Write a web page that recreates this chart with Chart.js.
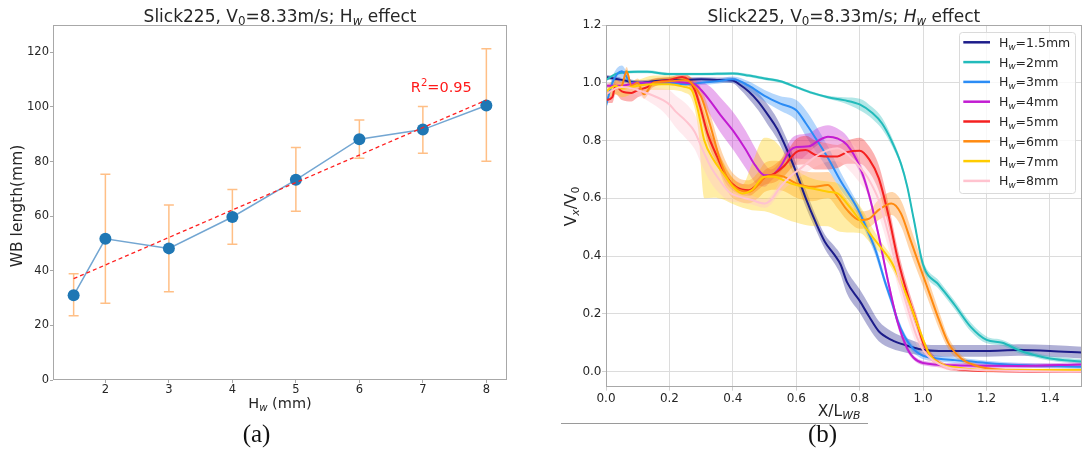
<!DOCTYPE html>
<html>
<head>
<meta charset="utf-8">
<script src="https://cdn.jsdelivr.net/npm/chart.js@4.4.0/dist/chart.umd.min.js"></script>
<style>
  body { margin: 0; background: #fff; width: 1092px; height: 450px; overflow: hidden; position: relative; }
  canvas { position: absolute; top: 0; }
  #chartA { left: 0; }
  #chartB { left: 560px; }
</style>
</head>
<body>
<canvas id="chartA" width="546" height="450"></canvas>
<canvas id="chartB" width="532" height="450"></canvas>
<script>

// ---- panel (a): WB length vs Hw ----
let hwA = [1.5, 2, 3, 4, 5, 6, 7, 8];
let wbLen = [31.0, 51.7, 48.2, 59.7, 73.3, 88.2, 91.7, 100.5];
let wbHi = [38.9, 75.3, 64.1, 69.8, 85.1, 95.2, 100.2, 121.3];
let wbLo = [23.5, 28.1, 32.3, 49.7, 61.8, 81.2, 83.0, 80.1];
let fitX = [1.5, 8];
let fitY = [37.1, 102.5];
let xTicksA = [2, 3, 4, 5, 6, 7, 8];
let yTicksA = [0, 20, 40, 60, 80, 100, 120];

// ---- panel (b): Vx/V0 vs X/Lwb, one curve per Hw ----
let hwLabels = ['1.5', '2', '3', '4', '5', '6', '7', '8'];
let lineColors = ['#1c1c8a', '#22bbbb', '#2b8cf5', '#c21cd2', '#f52020', '#ff8a10', '#ffcc00', '#ffc3cf'];
let xTicksB = [0, 0.2, 0.4, 0.6, 0.8, 1.0, 1.2, 1.4];
let yTicksB = [0, 0.2, 0.4, 0.6, 0.8, 1.0, 1.2];

let x_h15 = [0, 0.05, 0.1, 0.15, 0.2, 0.25, 0.3, 0.35, 0.4, 0.42, 0.45, 0.48, 0.51, 0.54, 0.57, 0.6, 0.63, 0.66, 0.69, 0.72, 0.74, 0.76, 0.8, 0.83, 0.86, 0.9, 0.95, 1.0, 1.05, 1.1, 1.2, 1.3, 1.4, 1.5];
let y_h15 = [1.02, 1.01, 1.0, 1.005, 1.01, 1.01, 1.012, 1.01, 1.008, 0.995, 0.97, 0.935, 0.89, 0.84, 0.77, 0.69, 0.6, 0.52, 0.45, 0.405, 0.37, 0.31, 0.245, 0.19, 0.14, 0.11, 0.09, 0.076, 0.072, 0.072, 0.072, 0.075, 0.072, 0.066];
let w_h15 = [0.008, 0.008, 0.008, 0.008, 0.008, 0.008, 0.008, 0.008, 0.01, 0.015, 0.025, 0.03, 0.035, 0.035, 0.035, 0.03, 0.03, 0.025, 0.025, 0.03, 0.035, 0.04, 0.04, 0.04, 0.035, 0.03, 0.025, 0.02, 0.02, 0.02, 0.02, 0.02, 0.02, 0.02];

let x_h2 = [0, 0.03, 0.05, 0.1, 0.13, 0.2, 0.3, 0.4, 0.45, 0.5, 0.55, 0.6, 0.65, 0.7, 0.75, 0.8, 0.84, 0.87, 0.9, 0.93, 0.95, 0.97, 1.0, 1.05, 1.1, 1.15, 1.2, 1.25, 1.3, 1.35, 1.4, 1.5];
let y_h2 = [1.01, 1.03, 1.035, 1.038, 1.038, 1.03, 1.03, 1.032, 1.025, 1.015, 1.005, 0.985, 0.965, 0.95, 0.94, 0.925, 0.895, 0.86, 0.8, 0.72, 0.64, 0.53, 0.37, 0.3, 0.23, 0.155, 0.11, 0.1, 0.075, 0.058, 0.046, 0.035];
let w_h2 = [0.005, 0.005, 0.005, 0.005, 0.005, 0.005, 0.005, 0.005, 0.005, 0.005, 0.005, 0.005, 0.005, 0.005, 0.01, 0.02, 0.02, 0.02, 0.015, 0.01, 0.01, 0.01, 0.015, 0.015, 0.015, 0.015, 0.012, 0.01, 0.01, 0.008, 0.008, 0.008];

let x_h3 = [0, 0.02, 0.05, 0.08, 0.1, 0.15, 0.2, 0.25, 0.3, 0.35, 0.4, 0.45, 0.5, 0.55, 0.6, 0.63, 0.66, 0.7, 0.74, 0.78, 0.8, 0.82, 0.85, 0.88, 0.9, 0.92, 0.94, 0.96, 0.98, 1.0, 1.05, 1.1, 1.2, 1.3, 1.5];
let y_h3 = [0.92, 1.0, 1.04, 1.0, 1.0, 1.0, 1.0, 0.995, 1.0, 1.005, 1.012, 0.99, 0.955, 0.928, 0.905, 0.86, 0.81, 0.74, 0.66, 0.59, 0.55, 0.5, 0.42, 0.31, 0.245, 0.175, 0.125, 0.09, 0.068, 0.055, 0.045, 0.04, 0.03, 0.023, 0.017];
let w_h3 = [0.01, 0.02, 0.02, 0.01, 0.008, 0.008, 0.008, 0.008, 0.008, 0.008, 0.01, 0.015, 0.02, 0.025, 0.035, 0.045, 0.045, 0.04, 0.03, 0.02, 0.02, 0.02, 0.02, 0.015, 0.015, 0.015, 0.012, 0.012, 0.012, 0.012, 0.01, 0.01, 0.008, 0.008, 0.008];

let x_h4 = [0, 0.05, 0.1, 0.15, 0.2, 0.25, 0.28, 0.3, 0.33, 0.36, 0.4, 0.44, 0.47, 0.5, 0.52, 0.55, 0.58, 0.6, 0.64, 0.67, 0.7, 0.73, 0.76, 0.8, 0.83, 0.86, 0.89, 0.92, 0.95, 0.97, 1.0, 1.1, 1.3, 1.5];
let y_h4 = [0.99, 0.99, 1.0, 1.0, 1.005, 1.0, 0.995, 0.975, 0.935, 0.89, 0.835, 0.77, 0.715, 0.68, 0.68, 0.71, 0.765, 0.778, 0.78, 0.8, 0.813, 0.807, 0.785, 0.71, 0.61, 0.47, 0.31, 0.17, 0.08, 0.048, 0.03, 0.022, 0.02, 0.025];
let w_h4 = [0.008, 0.008, 0.008, 0.008, 0.008, 0.008, 0.015, 0.03, 0.05, 0.06, 0.065, 0.065, 0.06, 0.04, 0.02, 0.02, 0.035, 0.04, 0.045, 0.045, 0.04, 0.035, 0.03, 0.02, 0.015, 0.015, 0.015, 0.015, 0.01, 0.008, 0.008, 0.008, 0.008, 0.008];

let x_h5 = [0, 0.02, 0.03, 0.05, 0.08, 0.1, 0.13, 0.15, 0.2, 0.24, 0.26, 0.28, 0.3, 0.32, 0.35, 0.38, 0.41, 0.45, 0.48, 0.5, 0.53, 0.56, 0.6, 0.63, 0.66, 0.7, 0.73, 0.76, 0.8, 0.83, 0.86, 0.89, 0.92, 0.95, 0.98, 1.0, 1.02, 1.05, 1.1, 1.2, 1.5];
let y_h5 = [0.94, 0.95, 0.99, 0.97, 0.965, 0.975, 0.985, 1.0, 1.01, 1.02, 1.01, 0.975, 0.905, 0.825, 0.745, 0.675, 0.64, 0.628, 0.65, 0.672, 0.685, 0.71, 0.76, 0.767, 0.75, 0.745, 0.745, 0.76, 0.765, 0.735, 0.67, 0.545, 0.39, 0.27, 0.17, 0.1, 0.06, 0.03, 0.01, 0.003, 0.0];
let w_h5 = [0.01, 0.02, 0.03, 0.03, 0.03, 0.025, 0.02, 0.015, 0.01, 0.01, 0.015, 0.02, 0.025, 0.03, 0.03, 0.025, 0.02, 0.02, 0.02, 0.025, 0.03, 0.035, 0.045, 0.05, 0.05, 0.045, 0.04, 0.04, 0.045, 0.045, 0.045, 0.04, 0.035, 0.03, 0.025, 0.02, 0.015, 0.01, 0.008, 0.005, 0.005];

let x_h6 = [0, 0.03, 0.05, 0.065, 0.08, 0.1, 0.12, 0.15, 0.2, 0.25, 0.27, 0.3, 0.33, 0.36, 0.39, 0.42, 0.45, 0.48, 0.5, 0.53, 0.56, 0.6, 0.65, 0.7, 0.73, 0.76, 0.8, 0.83, 0.86, 0.9, 0.93, 0.96, 0.99, 1.02, 1.05, 1.08, 1.12, 1.16, 1.2, 1.3, 1.5];
let y_h6 = [0.96, 0.98, 0.99, 1.04, 0.99, 1.0, 0.96, 1.0, 1.005, 1.01, 0.998, 0.952, 0.848, 0.732, 0.657, 0.629, 0.623, 0.646, 0.672, 0.68, 0.675, 0.652, 0.64, 0.646, 0.606, 0.56, 0.525, 0.53, 0.56, 0.582, 0.548, 0.456, 0.363, 0.271, 0.179, 0.098, 0.046, 0.023, 0.012, 0.005, 0.003];
let w_h6 = [0.01, 0.015, 0.015, 0.015, 0.015, 0.015, 0.015, 0.012, 0.012, 0.015, 0.02, 0.03, 0.04, 0.045, 0.045, 0.04, 0.04, 0.045, 0.05, 0.05, 0.05, 0.05, 0.05, 0.045, 0.04, 0.035, 0.03, 0.03, 0.035, 0.04, 0.045, 0.045, 0.04, 0.035, 0.03, 0.02, 0.012, 0.008, 0.005, 0.005, 0.005];

let x_h7 = [0, 0.03, 0.05, 0.1, 0.15, 0.2, 0.25, 0.27, 0.29, 0.31, 0.34, 0.37, 0.4, 0.43, 0.46, 0.5, 0.53, 0.57, 0.6, 0.65, 0.7, 0.73, 0.76, 0.8, 0.84, 0.87, 0.9, 0.93, 0.96, 0.99, 1.02, 1.05, 1.1, 1.2, 1.5];
let y_h7 = [0.97, 0.99, 0.98, 0.99, 0.995, 0.995, 0.985, 0.975, 0.905, 0.8, 0.732, 0.686, 0.64, 0.617, 0.629, 0.675, 0.675, 0.657, 0.646, 0.634, 0.623, 0.617, 0.582, 0.525, 0.467, 0.425, 0.38, 0.31, 0.23, 0.14, 0.06, 0.03, 0.015, 0.005, 0.006];
let hi_h7 = [0.02, 0.02, 0.02, 0.02, 0.03, 0.03, 0.03, 0.03, 0.03, 0.1, 0.05, 0.04, 0.03, 0.03, 0.09, 0.135, 0.125, 0.09, 0.055, 0.035, 0.035, 0.035, 0.04, 0.05, 0.03, 0.02, 0.02, 0.02, 0.015, 0.01, 0.01, 0.008, 0.005, 0.005, 0.005];
let lo_h7 = [0.03, 0.03, 0.03, 0.02, 0.02, 0.02, 0.02, 0.03, 0.06, 0.2, 0.13, 0.09, 0.06, 0.05, 0.07, 0.12, 0.13, 0.13, 0.13, 0.13, 0.12, 0.13, 0.1, 0.045, 0.03, 0.02, 0.02, 0.02, 0.015, 0.01, 0.01, 0.008, 0.005, 0.005, 0.005];

let x_h8 = [0, 0.03, 0.05, 0.1, 0.15, 0.18, 0.2, 0.22, 0.25, 0.28, 0.3, 0.33, 0.36, 0.39, 0.42, 0.46, 0.5, 0.52, 0.55, 0.58, 0.62, 0.66, 0.7, 0.73, 0.77, 0.8, 0.83, 0.86, 0.89, 0.92, 0.95, 0.98, 1.0, 1.03, 1.07, 1.1, 1.5];
let y_h8 = [0.96, 0.98, 0.985, 0.975, 0.955, 0.94, 0.925, 0.9, 0.87, 0.83, 0.78, 0.71, 0.66, 0.62, 0.606, 0.594, 0.582, 0.594, 0.64, 0.675, 0.709, 0.744, 0.767, 0.773, 0.744, 0.709, 0.663, 0.594, 0.479, 0.34, 0.225, 0.121, 0.075, 0.04, 0.017, 0.01, 0.0];
let w_h8 = [0.015, 0.015, 0.015, 0.02, 0.03, 0.04, 0.05, 0.055, 0.06, 0.06, 0.06, 0.055, 0.045, 0.03, 0.02, 0.015, 0.015, 0.015, 0.02, 0.025, 0.03, 0.035, 0.04, 0.045, 0.05, 0.055, 0.055, 0.055, 0.05, 0.045, 0.04, 0.03, 0.02, 0.015, 0.01, 0.008, 0.005];

let series = [
  { x: x_h15, y: y_h15, hi: w_h15, lo: w_h15 },
  { x: x_h2, y: y_h2, hi: w_h2, lo: w_h2 },
  { x: x_h3, y: y_h3, hi: w_h3, lo: w_h3 },
  { x: x_h4, y: y_h4, hi: w_h4, lo: w_h4 },
  { x: x_h5, y: y_h5, hi: w_h5, lo: w_h5 },
  { x: x_h6, y: y_h6, hi: w_h6, lo: w_h6 },
  { x: x_h7, y: y_h7, hi: hi_h7, lo: lo_h7 },
  { x: x_h8, y: y_h8, hi: w_h8, lo: w_h8 }
];

const FONT = '"DejaVu Sans", sans-serif';
const TXT = '#262626';

// text with sub/superscripts: parts = [{t, sub, sup, it}]
const drawRich = (ctx, parts, x, y, size, color, align) => {
  const fontFor = (p) => (p.it ? 'italic ' : '') + ((p.sub || p.sup) ? size * 0.7 : size) + 'px ' + FONT;
  let total = 0;
  parts.forEach((p) => { ctx.font = fontFor(p); total += ctx.measureText(p.t).width; });
  let cx = align == 'center' ? x - total / 2 : (align == 'right' ? x - total : x);
  ctx.fillStyle = color;
  ctx.textAlign = 'left';
  ctx.textBaseline = 'alphabetic';
  parts.forEach((p) => {
    ctx.font = fontFor(p);
    let dy = p.sub ? size * 0.22 : (p.sup ? -size * 0.4 : 0);
    ctx.fillText(p.t, cx, y + dy);
    cx += ctx.measureText(p.t).width;
  });
};

const drawRotated = (ctx, parts, x, y, size) => {
  ctx.save();
  ctx.translate(x, y);
  ctx.rotate(-Math.PI / 2);
  drawRich(ctx, parts, 0, 0, size, TXT, 'center');
  ctx.restore();
};

const withAlpha = (hex, a) => {
  let n = parseInt(hex.slice(1), 16);
  return 'rgba(' + (n >> 16) + ',' + ((n >> 8) & 255) + ',' + (n & 255) + ',' + a + ')';
};

const frame = (ctx, area) => {
  ctx.save();
  ctx.strokeStyle = '#a8a8a8';
  ctx.lineWidth = 1;
  ctx.strokeRect(Math.round(area.left) + 0.5, Math.round(area.top) + 0.5,
    Math.round(area.right - area.left) - 1, Math.round(area.bottom - area.top) - 1);
  ctx.restore();
};

const errorBarPlugin = {
  id: 'errbars',
  beforeDatasetsDraw(chart) {
    let ctx = chart.ctx;
    let sx = chart.scales.x, sy = chart.scales.y;
    ctx.save();
    ctx.strokeStyle = '#ffbf86';
    ctx.lineWidth = 1.5;
    hwA.forEach((h, i) => {
      let px = sx.getPixelForValue(h);
      let top = sy.getPixelForValue(wbHi[i]);
      let bot = sy.getPixelForValue(wbLo[i]);
      ctx.beginPath();
      ctx.moveTo(px, top); ctx.lineTo(px, bot);
      ctx.moveTo(px - 5, top); ctx.lineTo(px + 5, top);
      ctx.moveTo(px - 5, bot); ctx.lineTo(px + 5, bot);
      ctx.stroke();
    });
    ctx.restore();
  }
};

const textAPlugin = {
  id: 'textA',
  afterDraw(chart) {
    let ctx = chart.ctx, area = chart.chartArea;
    frame(ctx, area);
    let mid = (area.left + area.right) / 2;
    drawRich(ctx, [{ t: 'Slick225, V' }, { t: '0', sub: true }, { t: '=8.33m/s; H' }, { t: 'w', sub: true, it: true }, { t: ' effect' }], mid, 21.5, 17, TXT, 'center');
    drawRich(ctx, [{ t: 'H' }, { t: 'w', sub: true, it: true }, { t: ' (mm)' }], mid, 408, 14.5, TXT, 'center');
    drawRotated(ctx, [{ t: 'WB length(mm)' }], 21.5, 206, 15.5);
    drawRich(ctx, [{ t: 'R' }, { t: '2', sup: true }, { t: '=0.95' }],
      chart.scales.x.getPixelForValue(6.81), chart.scales.y.getPixelForValue(105.4), 14.5, '#ff1a1a', 'left');
    ctx.save();
    ctx.font = '25px "Liberation Serif", serif';
    ctx.fillStyle = '#111';
    ctx.textAlign = 'center';
    ctx.fillText('(a)', 256.5, 441.5);
    ctx.restore();
  }
};

const textBPlugin = {
  id: 'textB',
  afterDatasetsDraw(chart) {
    let ctx = chart.ctx, area = chart.chartArea;
    let boxW = 116, boxH = 161;
    let left = area.right - 6.7 - boxW, top = area.top + 7;
    ctx.save();
    ctx.fillStyle = 'rgba(255,255,255,0.8)';
    ctx.strokeStyle = '#dadada';
    ctx.lineWidth = 1;
    ctx.beginPath();
    ctx.roundRect(left + 0.5, top + 0.5, boxW, boxH, 3);
    ctx.fill();
    ctx.stroke();
    hwLabels.forEach((lab, i) => {
      let cy = top + 10.3 + i * 19.8;
      ctx.strokeStyle = lineColors[i];
      ctx.lineWidth = 2.5;
      ctx.beginPath();
      ctx.moveTo(left + 4.3, cy);
      ctx.lineTo(left + 31, cy);
      ctx.stroke();
      drawRich(ctx, [{ t: 'H' }, { t: 'w', sub: true, it: true }, { t: '=' + lab + 'mm' }], left + 40, cy + 4.5, 12.5, TXT, 'left');
    });
    ctx.restore();
  },
  afterDraw(chart) {
    let ctx = chart.ctx, area = chart.chartArea;
    frame(ctx, area);
    let mid = (area.left + area.right) / 2;
    drawRich(ctx, [{ t: 'Slick225, V' }, { t: '0', sub: true }, { t: '=8.33m/s; ' }, { t: 'H', it: true }, { t: 'w', sub: true, it: true }, { t: ' effect' }], mid, 21.5, 17, TXT, 'center');
    drawRich(ctx, [{ t: 'X/L' }, { t: 'WB', sub: true, it: true }], 279, 416, 15.5, TXT, 'center');
    drawRotated(ctx, [{ t: 'V' }, { t: 'x', sub: true, it: true }, { t: '/V' }, { t: '0', sub: true }], 15.5, 206.5, 15.5);
    ctx.save();
    ctx.strokeStyle = '#9a9a9a';
    ctx.lineWidth = 1;
    ctx.beginPath();
    ctx.moveTo(1, 423.5);
    ctx.lineTo(308, 423.5);
    ctx.stroke();
    ctx.font = '25px "Liberation Serif", serif';
    ctx.fillStyle = '#111';
    ctx.textAlign = 'center';
    ctx.fillText('(b)', 262.5, 441.5);
    ctx.restore();
  }
};

const tickFont = (size) => ({ family: FONT, size: size });

new Chart(document.getElementById('chartA'), {
  type: 'line',
  data: {
    datasets: [
      {
        data: hwA.map((h, i) => ({ x: h, y: wbLen[i] })),
        borderColor: '#73a6d2', borderWidth: 1.5,
        pointRadius: 6, pointBackgroundColor: '#1f77b4', pointBorderColor: '#1f77b4', pointBorderWidth: 0,
        order: 1
      },
      {
        data: fitX.map((h, i) => ({ x: h, y: fitY[i] })),
        borderColor: '#ff2020', borderWidth: 1.3, borderDash: [4, 3],
        pointRadius: 0, order: 0
      }
    ]
  },
  options: {
    responsive: false, animation: false, devicePixelRatio: 1,
    layout: { padding: { top: 25, right: 39, bottom: 0, left: 0 } },
    plugins: { legend: { display: false }, tooltip: { enabled: false } },
    scales: {
      x: {
        type: 'linear', min: 1.175, max: 8.325,
        afterBuildTicks: (ax) => { ax.ticks = xTicksA.map((v) => ({ value: v })); },
        afterFit: (ax) => { ax.height = 70; },
        grid: { display: true, drawOnChartArea: false, drawTicks: true, tickLength: 3, tickColor: '#a8a8a8' },
        border: { display: false },
        ticks: { font: tickFont(11.5), color: TXT, padding: 0, maxRotation: 0 }
      },
      y: {
        min: 0, max: 130,
        afterBuildTicks: (ax) => { ax.ticks = yTicksA.map((v) => ({ value: v })); },
        afterFit: (ax) => { ax.width = 53; },
        grid: { display: true, drawOnChartArea: false, drawTicks: true, tickLength: 3, tickColor: '#a8a8a8' },
        border: { display: false },
        ticks: { font: tickFont(11.5), color: TXT, padding: 1 }
      }
    }
  },
  plugins: [errorBarPlugin, textAPlugin]
});

let datasetsB = [];
series.forEach((s, i) => {
  if (s.x.length != s.y.length || s.x.length != s.hi.length || s.x.length != s.lo.length) {
    console.warn('length mismatch in series', hwLabels[i]);
  }
  datasetsB.push({
    data: s.x.map((v, k) => ({ x: v, y: s.y[k] + s.hi[k] })),
    borderWidth: 0, pointRadius: 0, fill: false,
    cubicInterpolationMode: 'monotone', order: 100 - i
  });
  datasetsB.push({
    data: s.x.map((v, k) => ({ x: v, y: s.y[k] - s.lo[k] })),
    borderWidth: 0, pointRadius: 0, fill: '-1',
    backgroundColor: withAlpha(lineColors[i], 0.35),
    cubicInterpolationMode: 'monotone', order: 100 - i
  });
});
series.forEach((s, i) => {
  datasetsB.push({
    data: s.x.map((v, k) => ({ x: v, y: s.y[k] })),
    borderColor: lineColors[i], borderWidth: 2, pointRadius: 0, fill: false,
    cubicInterpolationMode: 'monotone', order: -i
  });
});

new Chart(document.getElementById('chartB'), {
  type: 'line',
  data: { datasets: datasetsB },
  options: {
    responsive: false, animation: false, devicePixelRatio: 1,
    layout: { padding: { top: 25, right: 10.3, bottom: 0, left: 0 } },
    plugins: { legend: { display: false }, tooltip: { enabled: false } },
    scales: {
      x: {
        type: 'linear', min: 0, max: 1.5,
        afterBuildTicks: (ax) => { ax.ticks = xTicksB.map((v) => ({ value: v })); },
        afterFit: (ax) => { ax.height = 63.3; },
        grid: { color: '#dcdcdc', drawTicks: true, tickLength: 4, tickColor: '#d0d0d0' },
        border: { display: false },
        ticks: { font: tickFont(12), color: TXT, padding: 1, maxRotation: 0, callback: (v) => Number(v).toFixed(1) }
      },
      y: {
        min: -0.052, max: 1.2,
        afterBuildTicks: (ax) => { ax.ticks = yTicksB.map((v) => ({ value: v })); },
        afterFit: (ax) => { ax.width = 46; },
        grid: { color: '#dcdcdc', drawTicks: true, tickLength: 4, tickColor: '#d0d0d0' },
        border: { display: false },
        ticks: { font: tickFont(12), color: TXT, padding: 0.5, callback: (v) => Number(v).toFixed(1) }
      }
    }
  },
  plugins: [textBPlugin]
});

</script>
</body>
</html>
